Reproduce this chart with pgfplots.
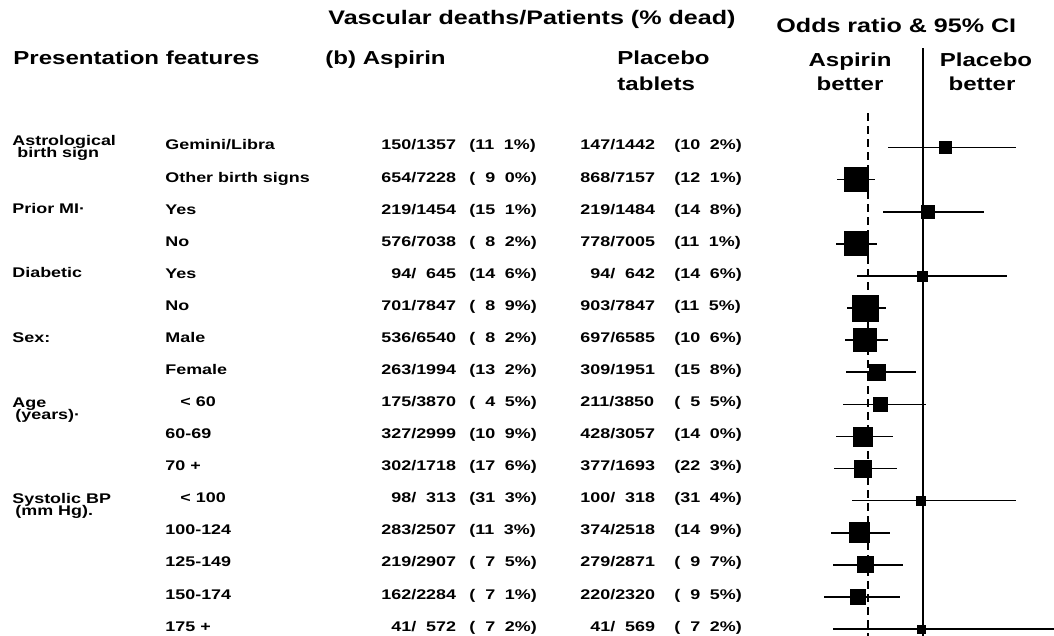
\documentclass[border=0pt]{standalone}
\usepackage{fontspec}
\setmainfont{Liberation Sans}[FakeStretch=1.28]
\usepackage{pgfplots}
\pgfplotsset{compat=1.18}
\usepackage{pgfplotstable}

\newcommand{\hd}{\fontsize{9.4}{11}\selectfont\bfseries}
\newcommand{\ttl}{\fontsize{9.8}{11}\selectfont\bfseries}
\newcommand{\rw}{\fontsize{7}{8}\selectfont\bfseries}
\newcommand{\nm}{\fontsize{7}{8}\selectfont\bfseries}
\newcommand{\z}{\phantom{0}}
\newcommand{\dg}{\hspace{4.8pt}}

% row: 1 = Gemini/Libra ... 16 = SBP 175+
% or = odds ratio, lo/hi = 95% CI, side = box side (px, ~ weight)
\pgfplotstableread{
row or    lo    hi    side
1   1.092 0.854 1.389 12
2   0.720 0.640 0.799 24
3   1.021 0.833 1.255 13
4   0.720 0.636 0.808 24
5   0.996 0.724 1.351 10
6   0.757 0.682 0.845 26
7   0.757 0.674 0.854 23
8   0.808 0.678 0.971 16
9   0.820 0.665 1.013 14
10  0.749 0.636 0.874 19
11  0.749 0.628 0.891 17
12  0.992 0.703 1.389 9
13  0.732 0.615 0.862 20
14  0.757 0.623 0.916 16
15  0.728 0.586 0.904 15
16  0.992 0.623 1.600 8
}\forest

\begin{document}
\begin{tikzpicture}
\begin{scope}[x=0.5pt,y=-0.5pt,every node/.style={inner sep=0pt,anchor=base west}]
\path[use as bounding box] (0,0) rectangle (1054,636);
% headers
\node at (328,25) {\ttl Vascular deaths/Patients (\% dead)};
\node at (776,33) {\ttl Odds ratio \& 95\% CI};
\node at (13,65) {\hd Presentation features};
\node at (325,65) {\hd (b) Aspirin};
\node at (617,65) {\hd Placebo};
\node at (617,91) {\hd tablets};
\node[anchor=base] at (850,67) {\hd Aspirin};
\node[anchor=base] at (850,91) {\hd better};
\node[anchor=base] at (986,67) {\hd Placebo};
\node[anchor=base] at (982,91) {\hd better};
% group labels
\node at (12,146) {\rw Astrological};
\node at (17,158) {\rw birth sign};
\node at (12,214) {\rw Prior MI·};
\node at (12,278) {\rw Diabetic};
\node at (12,342) {\rw Sex:};
\node at (12,407) {\rw Age};
\node at (15,419) {\rw (years)·};
\node at (12,503) {\rw Systolic BP};
\node at (15,515) {\rw (mm Hg).};
% row labels
\node at (165,150.0) {\rw Gemini/Libra};
\node at (165,182.1) {\rw Other birth signs};
\node at (165,214.1) {\rw Yes};
\node at (165,246.2) {\rw No};
\node at (165,278.3) {\rw Yes};
\node at (165,310.4) {\rw No};
\node at (165,342.4) {\rw Male};
\node at (165,374.5) {\rw Female};
\node at (180,406.6) {\rw < 60};
\node at (165,438.6) {\rw 60-69};
\node at (165,470.7) {\rw 70 +};
\node at (180,502.8) {\rw < 100};
\node at (165,534.8) {\rw 100-124};
\node at (165,566.9) {\rw 125-149};
\node at (165,599.0) {\rw 150-174};
\node at (165,631.1) {\rw 175 +};
% aspirin deaths/patients
\node at (381,150.0) {\nm 150/1357};
\node at (381,182.1) {\nm 654/7228};
\node at (381,214.1) {\nm 219/1454};
\node at (381,246.2) {\nm 576/7038};
\node at (381,278.3) {\nm \z94/\z645};
\node at (381,310.4) {\nm 701/7847};
\node at (381,342.4) {\nm 536/6540};
\node at (381,374.5) {\nm 263/1994};
\node at (381,406.6) {\nm 175/3870};
\node at (381,438.6) {\nm 327/2999};
\node at (381,470.7) {\nm 302/1718};
\node at (381,502.8) {\nm \z98/\z313};
\node at (381,534.8) {\nm 283/2507};
\node at (381,566.9) {\nm 219/2907};
\node at (381,599.0) {\nm 162/2284};
\node at (381,631.1) {\nm \z41/\z572};
% aspirin % dead
\node at (469,150.0) {\nm (11\dg1\%)};
\node at (469,182.1) {\nm (\z9\dg0\%)};
\node at (469,214.1) {\nm (15\dg1\%)};
\node at (469,246.2) {\nm (\z8\dg2\%)};
\node at (469,278.3) {\nm (14\dg6\%)};
\node at (469,310.4) {\nm (\z8\dg9\%)};
\node at (469,342.4) {\nm (\z8\dg2\%)};
\node at (469,374.5) {\nm (13\dg2\%)};
\node at (469,406.6) {\nm (\z4\dg5\%)};
\node at (469,438.6) {\nm (10\dg9\%)};
\node at (469,470.7) {\nm (17\dg6\%)};
\node at (469,502.8) {\nm (31\dg3\%)};
\node at (469,534.8) {\nm (11\dg3\%)};
\node at (469,566.9) {\nm (\z7\dg5\%)};
\node at (469,599.0) {\nm (\z7\dg1\%)};
\node at (469,631.1) {\nm (\z7\dg2\%)};
% placebo deaths/patients
\node at (580,150.0) {\nm 147/1442};
\node at (580,182.1) {\nm 868/7157};
\node at (580,214.1) {\nm 219/1484};
\node at (580,246.2) {\nm 778/7005};
\node at (580,278.3) {\nm \z94/\z642};
\node at (580,310.4) {\nm 903/7847};
\node at (580,342.4) {\nm 697/6585};
\node at (580,374.5) {\nm 309/1951};
\node at (580,406.6) {\nm 211/3850};
\node at (580,438.6) {\nm 428/3057};
\node at (580,470.7) {\nm 377/1693};
\node at (580,502.8) {\nm 100/\z318};
\node at (580,534.8) {\nm 374/2518};
\node at (580,566.9) {\nm 279/2871};
\node at (580,599.0) {\nm 220/2320};
\node at (580,631.1) {\nm \z41/\z569};
% placebo % dead
\node at (674,150.0) {\nm (10\dg2\%)};
\node at (674,182.1) {\nm (12\dg1\%)};
\node at (674,214.1) {\nm (14\dg8\%)};
\node at (674,246.2) {\nm (11\dg1\%)};
\node at (674,278.3) {\nm (14\dg6\%)};
\node at (674,310.4) {\nm (11\dg5\%)};
\node at (674,342.4) {\nm (10\dg6\%)};
\node at (674,374.5) {\nm (15\dg8\%)};
\node at (674,406.6) {\nm (\z5\dg5\%)};
\node at (674,438.6) {\nm (14\dg0\%)};
\node at (674,470.7) {\nm (22\dg3\%)};
\node at (674,502.8) {\nm (31\dg4\%)};
\node at (674,534.8) {\nm (14\dg9\%)};
\node at (674,566.9) {\nm (\z9\dg7\%)};
\node at (674,599.0) {\nm (\z9\dg5\%)};
\node at (674,631.1) {\nm (\z7\dg2\%)};
\end{scope}

\begin{axis}[
  at={(410pt,-318pt)}, anchor=south west,
  width=117pt, height=294pt, scale only axis,
  xmin=0.56904, xmax=1.54812,
  ymin=-2.0997, ymax=16.218, y dir=reverse,
  axis lines=none, clip=true,
]
\addplot[black, line width=1pt] coordinates {(1,-2.0997) (1,16.218)};
\addplot[black, line width=1pt, dash pattern=on 4pt off 2.5pt] coordinates {(0.770,-0.075) (0.770,16.218)};
\addplot[only marks, mark=square*, black, scatter,
  scatter/use mapped color={draw=black,fill=black},
  visualization depends on={\thisrow{side}/4 \as \msize},
  scatter/@pre marker code/.append style={/tikz/mark size=\msize},
  error bars/.cd, x dir=both, x explicit, error mark=none,
  error bar style={line width=0.8pt,black}]
  table[x=or, y=row,
    x error plus expr=\thisrow{hi}-\thisrow{or},
    x error minus expr=\thisrow{or}-\thisrow{lo}] {\forest};
\end{axis}
\end{tikzpicture}
\end{document}
